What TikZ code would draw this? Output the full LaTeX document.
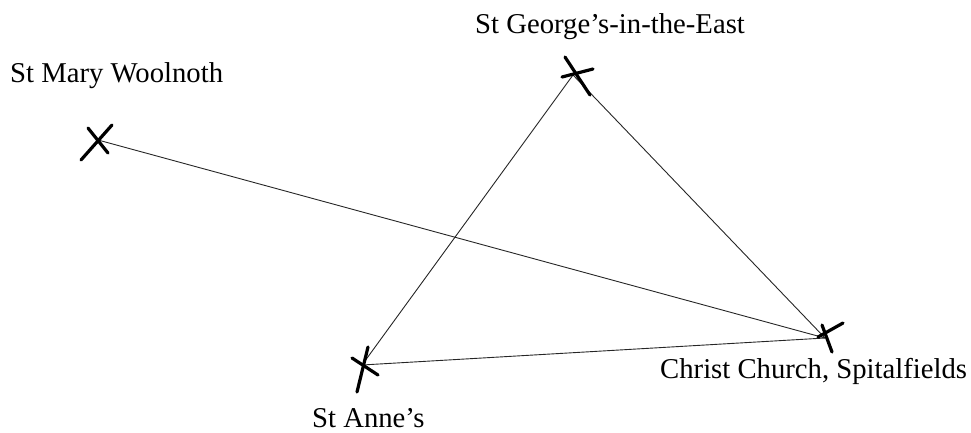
\documentclass[tikz,border=0pt]{standalone}
\usepackage{fontspec}
\setmainfont{Liberation Serif}
\tikzset{
  church/.style={line width=3.2pt, line cap=round},
  route/.style={line width=0.9pt, black!85},
  label/.style={anchor=base west, inner sep=0pt, font=\fontsize{28.7}{34}\selectfont}
}
\begin{document}
\begin{tikzpicture}[x=1pt, y=-1pt]
    \useasboundingbox (0,0) rectangle (971,432);

    % Lage der Kirchen
    \coordinate (mary)   at (98,140);
    \coordinate (george) at (573,75);
    \coordinate (christ) at (825,338);
    \coordinate (anne)   at (362,365);

    % Verbindungslinien
    \draw[route] (mary) -- (christ);
    \draw[route] (george) -- (anne);
    \draw[route] (george) -- (christ);
    \draw[route] (anne) -- (christ);

    % Kreuze (von Hand gezeichnet)
    \draw[church] (81,160) -- (112,125);
    \draw[church] (88,128) -- (108,153);
    \draw[church] (565,57) -- (590,95);
    \draw[church] (562,77) -- (593,69);
    \draw[church] (822,325) -- (832,352);
    \draw[church] (818,337) -- (843,323);
    \draw[church] (368,347) -- (357,392);
    \draw[church] (352,358) -- (378,375);

    % Namen
    \node[label] (marylabel)   at (10,82)   {St Mary Woolnoth};
    \node[label] (georgelabel) at (475,33)  {St George’s-in-the-East};
    \node[label] (christlabel) at (660,378) {Christ Church, Spitalfields};
    \node[label] (annelabel)   at (312,427) {St Anne’s};
\end{tikzpicture}
\end{document}
